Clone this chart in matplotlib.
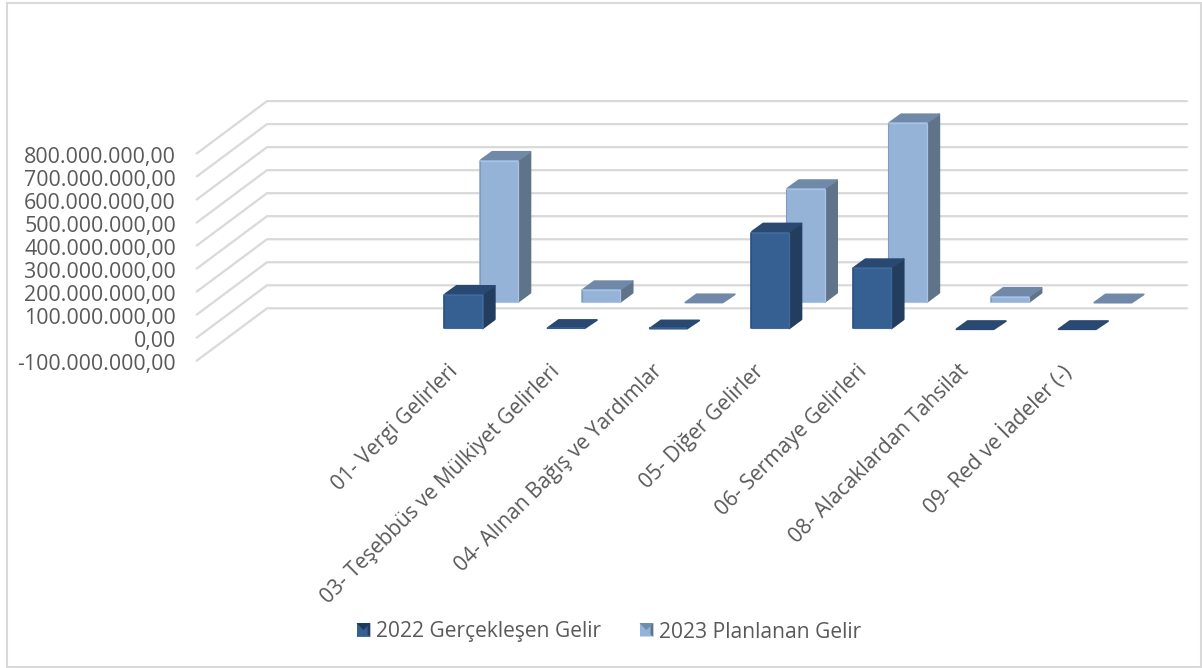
import matplotlib
matplotlib.use("Agg")
import matplotlib.pyplot as plt
from matplotlib.patches import Polygon, Rectangle, Patch
from matplotlib.legend_handler import HandlerBase
from matplotlib.ticker import FuncFormatter
from matplotlib.transforms import ScaledTranslation

categories = ["01- Vergi Gelirleri", "03- Teşebbüs ve Mülkiyet Gelirleri",
              "04- Alınan Bağış ve Yardımlar", "05- Diğer Gelirler",
              "06- Sermaye Gelirleri", "08- Alacaklardan Tahsilat",
              "09- Red ve İadeler (-)"]
gercek_2022 = [153e6, 5e6, 3e6, 424e6, 269e6, 0.3e6, 0.3e6]
plan_2023 = [620e6, 58e6, 1e6, 497e6, 783e6, 29e6, 0.5e6]
series_names = ["2022 Gerçekleşen Gelir", "2023 Planlanan Gelir"]
y_ticks = [-100e6, 0, 100e6, 200e6, 300e6, 400e6, 500e6, 600e6, 700e6, 800e6]

W, H = 1202, 668
FONT = "Open Sans"
GRAY = "#595959"
GRID = "#D9D9D9"
plt.rcParams["font.family"] = [FONT, "DejaVu Sans"]

fig = plt.figure(figsize=(W / 100, H / 100), dpi=100, facecolor="white")
AX_L, AX_R, AX_T, AX_B = 196.7, 1116.7, 153.5, 360.7
ax = fig.add_axes([AX_L / W, 1 - AX_B / H, (AX_R - AX_L) / W, (AX_B - AX_T) / H])
ax.set_xlim(-2.5, 6.5)
ax.set_ylim(-100e6, 800e6)
ax.patch.set_alpha(0)
for s in ax.spines.values():
    s.set_visible(False)

PX_X = (AX_R - AX_L) / 9
PX_Y = (AX_B - AX_T) / 900e6
DX = 70.3 / PX_X          # depth vector, category units
DY = 52.4 / PX_Y          # depth vector, value units

for v in y_ticks:
    ax.plot([-2.5, -2.5 + DX, 6.5 + DX], [v, v + DY, v + DY], color=GRID, lw=1.6,
            clip_on=False, zorder=1, solid_capstyle="round", solid_joinstyle="miter")


def draw_bar(i, v, d0, d1, colors):
    front, side, top, hi, lo = colors
    w = 40 / PX_X
    ix, iy = 0.9 / PX_X, 0.9 / PX_Y      # inset, so the round joins give soft corners
    xl, xr = i - w / 2 + d0 * DX, i + w / 2 + d0 * DX
    y0 = d0 * DY
    y1 = y0 + v
    ddx, ddy = (d1 - d0) * DX, (d1 - d0) * DY
    kw = dict(clip_on=False, zorder=3 + d1 * -1 + (1 - d0), joinstyle="round", lw=1.3)
    if v > 8e6:
        ax.add_patch(Polygon([(xr - ix, y0 + iy), (xr + ddx - ix, y0 + ddy + iy),
                              (xr + ddx - ix, y1 + ddy - iy), (xr - ix, y1 - iy)],
                             fc=side, ec=side, **kw))
    ax.add_patch(Polygon([(xl + ix * 2, y1), (xr - ix, y1),
                          (xr + ddx - ix, y1 + ddy - iy), (xl + ddx + ix, y1 + ddy - iy)],
                         fc=top, ec=top, **kw))
    if v > 1.5e6:
        ytop = max(y1 - iy, y0 + iy)
        ax.add_patch(Polygon([(xl + ix, y0 + iy), (xr - ix, y0 + iy), (xr - ix, ytop), (xl + ix, ytop)],
                             fc=front, ec=front, **kw))
    if v > 20e6:
        z = kw["zorder"] + 0.01
        ax.plot([xl + ix * 0.4, xl + ix * 0.4], [y0 + 2 * iy, y1 - 2 * iy], color=lo, lw=0.8,
                clip_on=False, zorder=z)
        ax.plot([xr - ix * 1.2, xr - ix * 1.2], [y0 + 2 * iy, y1 - 2 * iy], color=hi, lw=0.9,
                clip_on=False, zorder=z)
        ax.plot([xl + 2 * ix, xr - 2 * ix], [y1 - iy, y1 - iy], color=hi, lw=0.9,
                clip_on=False, zorder=z)
        ax.plot([xl + 2 * ix, xr - 2 * ix], [y0 + iy, y0 + iy], color=hi, lw=0.8,
                clip_on=False, zorder=z)


DARK = ("#366092", "#233D5E", "#294872", "#3F6A9A", "#2E5280")
LIGHT = ("#95B3D7", "#5F7389", "#7189A8", "#A8C3E3", "#7F9BBF")

for i, v in enumerate(plan_2023):
    draw_bar(i, v, 0.667, 0.84, LIGHT)
for i, v in enumerate(gercek_2022):
    draw_bar(i, v, 0.16, 0.333, DARK)

ax.set_yticks(y_ticks)
ax.yaxis.set_major_formatter(FuncFormatter(
    lambda v, _: f"{v:,.2f}".replace(",", "#").replace(".", ",").replace("#", ".")))
ax.tick_params(axis="y", length=0, pad=15.0, labelsize=15.4, labelcolor=GRAY)
ax.set_xticks(range(len(categories)))
ax.set_xticklabels(categories, rotation=45, ha="right", va="top", rotation_mode="anchor",
                   fontsize=15.1, color=GRAY)
ax.tick_params(axis="x", length=0, pad=0)
for lab in ax.get_xticklabels():
    lab.set_transform(lab.get_transform() + ScaledTranslation(-0.05, 0, fig.dpi_scale_trans))
for lab in ax.get_yticklabels():
    lab.set_transform(lab.get_transform() + ScaledTranslation(0, -0.012, fig.dpi_scale_trans))


class BevelHandler(HandlerBase):
    def create_artists(self, legend, orig, xd, yd, width, height, fontsize, trans):
        front, side, top, hi = orig.bevel
        x0, y0 = -xd, -yd
        x1, y1 = x0 + width, y0 + height
        m = width * 0.2
        arts = [
            Polygon([(x0, y0), (x1, y0), (x1, y1), (x0, y1)], fc=front, ec="none", transform=trans),
            Polygon([(x0, y1), (x1, y1), (x0 + width / 2, y0 + height / 2)], fc=top, ec="none", transform=trans),
            Polygon([(x1, y0), (x1, y1), (x1 - m, y1 - m), (x1 - m, y0 + m)], fc=side, ec="none", transform=trans),
            Polygon([(x0, y0), (x1, y0), (x1, y0 + m * 0.5), (x0, y0 + m * 0.5)], fc=hi, ec="none", transform=trans),
        ]
        return arts


h1 = Patch(label=series_names[0]); h1.bevel = ("#366092", "#233D5E", "#1F3A60", "#44709F")
h2 = Patch(label=series_names[1]); h2.bevel = ("#95B3D7", "#5F7389", "#6F8CB0", "#C5D7EC")
fig.legend(handles=[h1, h2], loc="center left", bbox_to_anchor=(356.5 / W, 1 - 632.0 / H),
           ncol=2, frameon=False, fontsize=15.1, labelcolor=GRAY,
           handler_map={Patch: BevelHandler()}, handlelength=0.66, handleheight=0.66,
           handletextpad=0.29, columnspacing=1.81, borderaxespad=0, borderpad=0)

fig.add_artist(Rectangle((7 / W, 1 - 667 / H), 1194 / W, 664 / H, transform=fig.transFigure,
                         fc="none", ec=GRID, lw=1.5))

fig.savefig("out.png", dpi=100)
